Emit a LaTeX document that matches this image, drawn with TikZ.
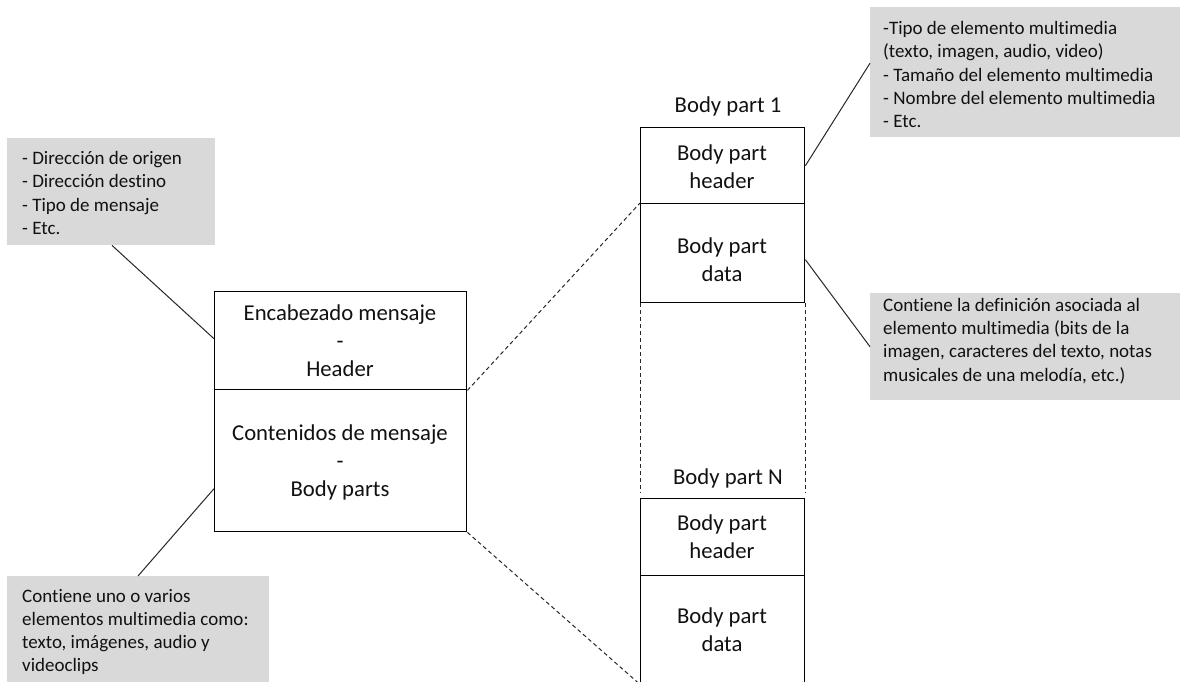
\documentclass[tikz,border=0pt]{standalone}
\usepackage{fontspec}
\setmainfont{Carlito}[Ligatures=NoCommon]
\begin{document}
\begin{tikzpicture}[x=1pt,y=-1pt,
  box/.style={draw=black, line width=1.4pt, fill=white, inner sep=0pt, anchor=north west},
  note/.style={fill=notegray, draw=none, inner sep=0pt, anchor=north west},
  bigtxt/.style={font=\fontsize{22.7}{28}\selectfont, align=center, inner sep=0pt, text=txtcol},
  smalltxt/.style={font=\fontsize{19}{23.3}\selectfont, align=left, inner sep=0pt, anchor=west, text=txtcol},
  link/.style={draw=black!85, line width=1pt},
  dashlink/.style={draw=black!85, line width=1pt, dash pattern=on 4pt off 3pt}]
\definecolor{notegray}{HTML}{D9D9D9}
\definecolor{txtcol}{HTML}{111111}
\useasboundingbox (0,0) rectangle (1180,681);
\clip (0,0) rectangle (1180,681);

% grey annotation panels
\node[note, minimum width=208pt, minimum height=107pt] (tl) at (7,138) {};
\node[note, minimum width=262pt, minimum height=110pt] (bl) at (7,576) {};
\node[note, minimum width=315pt, minimum height=130pt] (tr) at (870,7) {};
\node[note, minimum width=315pt, minimum height=107pt] (rt) at (870,293) {};

\node[smalltxt] (tlT) at (22,193) {- Dirección de origen\\- Dirección destino\\- Tipo de mensaje\\- Etc.};
\node[smalltxt] (blT) at (22,632) {Contiene uno o varios\\elementos multimedia como:\\texto, imágenes, audio y\\videoclips};
\node[smalltxt] (trT) at (883,74.5) {-Tipo de elemento multimedia\\(texto, imagen, audio, video)\\- Tamaño del elemento multimedia\\- Nombre del elemento multimedia\\- Etc.};
\node[smalltxt] (rtT) at (883,341) {Contiene la definición asociada al\\elemento multimedia (bits de la\\imagen, caracteres del texto, notas\\musicales de una melodía, etc.)};

% message boxes
\node[box, minimum width=252pt, minimum height=98pt] (mh) at (214,291) {};
\node[box, minimum width=252pt, minimum height=142pt] (mb) at (214,389) {};
\node[bigtxt] (mhT) at (340,341) {Encabezado mensaje\\-\\Header};
\node[bigtxt] (mbT) at (340,462) {Contenidos de mensaje\\-\\Body parts};

% body part 1
\node[bigtxt] (b1L) at (728,106) {Body part 1};
\node[box, minimum width=164pt, minimum height=76pt] (b1h) at (640,127) {};
\node[box, minimum width=164pt, minimum height=99pt] (b1d) at (640,203) {};
\node[bigtxt] (b1hT) at (722,166.5) {Body part\\header};
\node[bigtxt] (b1dT) at (722,259.5) {Body part\\data};

% body part N
\node[bigtxt] (bnL) at (728,478) {Body part N};
\node[box, minimum width=164pt, minimum height=77pt] (bnh) at (640,498) {};
\node[box, minimum width=164pt, minimum height=115pt] (bnd) at (640,575) {};
\node[bigtxt] (bnhT) at (722,537) {Body part\\header};
\node[bigtxt] (bndT) at (722,630) {Body part\\data};

% connectors
\draw[link] ([xshift=105pt]tl.south west) -- ([yshift=2pt]mh.west);
\draw[link] ([xshift=131pt]bl.north west) -- ([yshift=-28pt]mb.west);
\draw[link] (b1h.east) -- ([yshift=9pt]tr.west);
\draw[link] ([yshift=-6.5pt]b1d.east) -- (rt.west);
\draw[dashlink] (mh.south east) -- (b1d.north west);
\draw[dashlink] (mb.south east) -- ([yshift=7pt]bnd.south west);
\draw[dashlink] (b1d.south west) -- ([yshift=5pt]bnh.north west);
\draw[dashlink] (b1d.south east) -- ([yshift=5pt]bnh.north east);
\end{tikzpicture}
\end{document}
